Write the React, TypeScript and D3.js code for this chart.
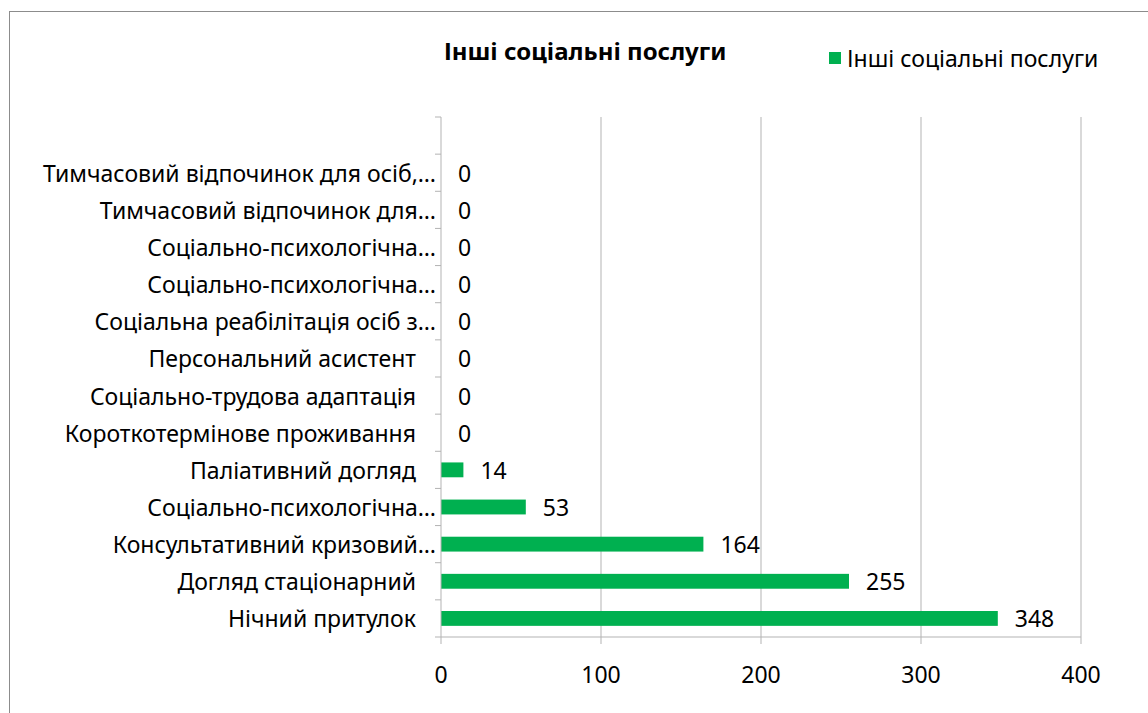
import React, { useRef, useEffect } from "react";
import * as d3 from "d3";

// categories top -> bottom (first slot is empty in the source sheet)
const categories = [
  "",
  "Тимчасовий відпочинок для осіб,…",
  "Тимчасовий відпочинок для…",
  "Соціально-психологічна…",
  "Соціально-психологічна…",
  "Соціальна реабілітація осіб з…",
  "Персональний асистент",
  "Соціально-трудова адаптація",
  "Короткотермінове проживання",
  "Паліативний догляд",
  "Соціально-психологічна…",
  "Консультативний кризовий…",
  "Догляд стаціонарний",
  "Нічний притулок",
];
const values: (number | null)[] = [null, 0, 0, 0, 0, 0, 0, 0, 0, 14, 53, 164, 255, 348];
const xTicks = [0, 100, 200, 300, 400];
const title = "Інші соціальні послуги";
const seriesName = "Інші соціальні послуги";

const W = 1148;
const H = 713;
const FONT = "'Noto Sans', 'Open Sans', sans-serif";
const FS = 23;

const App = () => {
  const ref = useRef<SVGSVGElement>(null);

  useEffect(() => {
    const svg = d3.select(ref.current);
    svg.selectAll("*").remove();

    const x = d3.scaleLinear().domain([0, 400]).range([441, 1081]);
    const y = d3
      .scaleBand<number>()
      .domain(d3.range(categories.length))
      .range([117, 637])
      .paddingInner(0.6)
      .paddingOuter(0.3);
    const step = y.step();
    const grid = "#b3b3b3";

    // outer frame
    svg.append("rect")
      .attr("x", 9.5).attr("y", 11.5)
      .attr("width", W + 20).attr("height", H + 20)
      .attr("fill", "white").attr("stroke", "#8c8c8c");

    // title
    svg.append("text")
      .attr("x", 444).attr("y", 50)
      .attr("dominant-baseline", "central")
      .style("font", `bold 24px ${FONT}`)
      .text(title);

    // legend
    svg.append("rect")
      .attr("x", 829).attr("y", 52).attr("width", 12).attr("height", 12)
      .attr("fill", "#00b050");
    svg.append("text")
      .attr("x", 847).attr("y", 58)
      .attr("dominant-baseline", "central")
      .style("font", `${FS}px ${FONT}`)
      .text(seriesName);

    // gridlines
    svg.append("g")
      .selectAll("line")
      .data(xTicks.slice(1))
      .join("line")
      .attr("x1", (d) => x(d)).attr("x2", (d) => x(d))
      .attr("y1", 117).attr("y2", 637)
      .attr("stroke", grid);

    // bars
    svg.append("g")
      .selectAll("rect")
      .data(values.map((v, i) => ({ v, i })).filter((d) => d.v !== null && d.v > 0))
      .join("rect")
      .attr("x", x(0))
      .attr("y", (d) => y(d.i)!)
      .attr("width", (d) => x(d.v!) - x(0))
      .attr("height", y.bandwidth())
      .attr("fill", "#00b050");

    // y axis
    const boundaries = d3.range(categories.length + 1).map((k) => 117 + k * step);
    const ax = svg.append("g").attr("stroke", grid);
    ax.append("line").attr("x1", 441).attr("x2", 441).attr("y1", 117).attr("y2", 637);
    ax.selectAll(".yt").data(boundaries).join("line")
      .attr("x1", 435).attr("x2", 441)
      .attr("y1", (d) => d).attr("y2", (d) => d);

    // x axis
    ax.append("line").attr("x1", 441).attr("x2", 1081).attr("y1", 637).attr("y2", 637);
    ax.selectAll(".xt").data(xTicks).join("line")
      .attr("x1", (d) => x(d)).attr("x2", (d) => x(d))
      .attr("y1", 637).attr("y2", 644);

    svg.append("g")
      .selectAll("text")
      .data(xTicks)
      .join("text")
      .attr("x", (d) => x(d)).attr("y", 674)
      .attr("text-anchor", "middle").attr("dominant-baseline", "central")
      .style("font", `${FS}px ${FONT}`)
      .text((d) => d);

    // category labels
    svg.append("g")
      .selectAll("text")
      .data(categories.map((c, i) => ({ c, i })))
      .join("text")
      .attr("x", (d) => (d.c.endsWith("…") ? 436 : 416))
      .attr("y", (d) => y(d.i)! + y.bandwidth() / 2)
      .attr("text-anchor", "end").attr("dominant-baseline", "central")
      .style("font", `${FS}px ${FONT}`)
      .text((d) => d.c);

    // value labels
    svg.append("g")
      .selectAll("text")
      .data(values.map((v, i) => ({ v, i })).filter((d) => d.v !== null))
      .join("text")
      .attr("x", (d) => x(d.v!) + 17)
      .attr("y", (d) => y(d.i)! + y.bandwidth() / 2)
      .attr("dominant-baseline", "central")
      .style("font", `${FS}px ${FONT}`)
      .text((d) => d.v!);
  }, []);

  return (
    <svg
      ref={ref}
      width={W}
      height={H}
      style={{ position: "absolute", left: 0, top: 0, background: "white" }}
    ></svg>
  );
};

export default App;
